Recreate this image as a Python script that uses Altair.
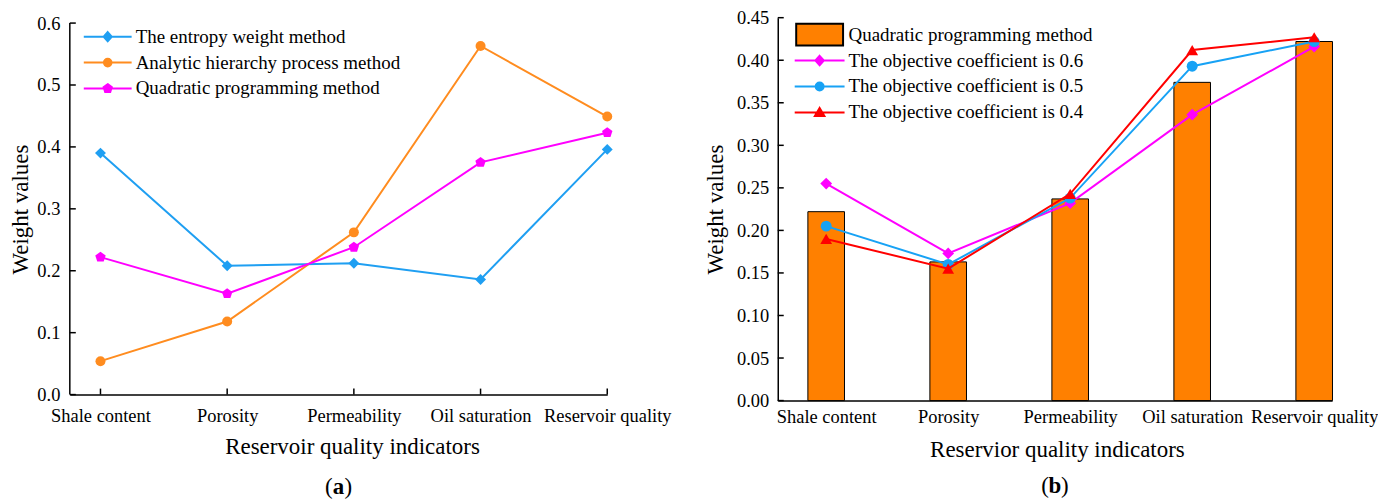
import json
import altair as alt
import pandas as pd

# ---------------- data ----------------
categories = ["Shale content", "Porosity", "Permeability", "Oil saturation", "Reservoir quality"]
cat_index = [0, 1, 2, 3, 4]

# panel (a)
series_a = ["The entropy weight method", "Analytic hierarchy process method", "Quadratic programming method"]
entropy_weight = [0.390, 0.208, 0.212, 0.186, 0.396]
ahp = [0.054, 0.118, 0.262, 0.563, 0.449]
quadratic_a = [0.222, 0.163, 0.238, 0.375, 0.423]
yticks_a = [0.0, 0.1, 0.2, 0.3, 0.4, 0.5, 0.6]

# panel (b)
series_b = ["Quadratic programming method", "The objective coefficient is 0.6",
            "The objective coefficient is 0.5", "The objective coefficient is 0.4"]
quadratic_b = [0.222, 0.163, 0.237, 0.374, 0.422]
coef_06 = [0.255, 0.173, 0.232, 0.336, 0.416]
coef_05 = [0.205, 0.160, 0.238, 0.393, 0.422]
coef_04 = [0.190, 0.155, 0.243, 0.412, 0.427]
yticks_b = [0.0, 0.05, 0.10, 0.15, 0.20, 0.25, 0.30, 0.35, 0.40, 0.45]

FONT = "Liberation Serif"
BLUE_A, ORANGE_A, MAGENTA = "#1F9FF2", "#FF8C1F", "#FF00FF"
BAR_ORANGE, BLUE_B, RED = "#FF8000", "#17A2F5", "#FF0000"

PENTAGON = "M0,-1L0.951,-0.309L0.588,0.809L-0.588,0.809L-0.951,-0.309Z"
LEG_DIAMOND = "M-1,0H1M0,-0.19L0.17,0L0,0.19L-0.17,0Z"
LEG_CIRCLE = "M-1,0H1M0.16,0A0.16,0.16,0,1,1,-0.16,0A0.16,0.16,0,1,1,0.16,0Z"
LEG_PENT = "M-1,0H1M0,-0.18L0.171,-0.056L0.106,0.146L-0.106,0.146L-0.171,-0.056Z"
LEG_TRI = "M-1,0H1M0,-0.18L0.19,0.14L-0.19,0.14Z"
LEG_RECT = "M-0.94,-0.44H0.94V0.44H-0.94Z"


def frame(vals):
    return pd.DataFrame({"idx": cat_index, "category": categories, "value": vals})


label_expr = json.dumps(categories) + "[datum.value]"
one_row = pd.DataFrame({"k": [0]})

# ---------------- panel (a) ----------------
W_A, H_A = 539, 378
xs_a = alt.Scale(domain=[-0.242, 4], nice=False, zero=False)
ys_a = alt.Scale(domain=[0, 0.6087], nice=False)
x_axis_a = alt.Axis(values=cat_index, labelExpr=label_expr, title="Reservoir quality indicators",
                    ticks=False, grid=False, labelFlush=False, labelOverlap=False,
                    labelBaseline="middle", labelPadding=21,
                    titleX=283, titleY=52, titleBaseline="middle", titleAlign="center")
y_axis_a = alt.Axis(values=yticks_a, format=".1f", title="Weight values", ticks=False, grid=False,
                    domain=False, labelFlush=False, labelOverlap=False, labelPadding=10,
                    titleX=-49.5, titleY=H_A / 2 + 3, titleBaseline="middle", titleAlign="center")
XA = alt.X("idx:Q", scale=xs_a, axis=x_axis_a)
YA = alt.Y("value:Q", scale=ys_a, axis=y_axis_a)


def series_layers(vals, color, shape, size, xenc, yenc):
    base = alt.Chart(frame(vals))
    line = base.mark_line(color=color, strokeWidth=2).encode(x=xenc, y=yenc)
    pts = base.mark_point(filled=True, color=color, shape=shape, size=size, opacity=1).encode(x=xenc, y=yenc)
    return [line, pts]


yaxis_line_a = alt.Chart(pd.DataFrame({"value": [yticks_a[0]], "top": [yticks_a[-1]]})).mark_rule(
    color="black", strokeWidth=1.5).encode(y=YA, y2="top:Q", x=alt.value(0))
ytick_a = alt.Chart(pd.DataFrame({"value": yticks_a})).mark_rule(color="black", strokeWidth=1.5).encode(
    y=YA, x=alt.value(0), x2=alt.value(6))
xtick_a = alt.Chart(frame(quadratic_a)).mark_rule(color="black", strokeWidth=1.5).encode(
    x=XA, y=alt.value(H_A - 6), y2=alt.value(H_A))

leg_a = alt.Legend(title=None, orient="none", legendX=13, legendY=6, symbolSize=2304,
                   symbolStrokeWidth=2, labelFont=FONT, labelFontSize=19, labelColor="black",
                   labelOffset=3, symbolOffset=0, clipHeight=26, rowPadding=0, padding=0,
                   labelLimit=500)
legend_a = alt.Chart(pd.DataFrame({"series": series_a})).transform_filter("false").mark_point(
    filled=True, opacity=1).encode(
    color=alt.Color("series:N", scale=alt.Scale(domain=series_a, range=[BLUE_A, ORANGE_A, MAGENTA]), legend=leg_a),
    stroke=alt.Stroke("series:N", scale=alt.Scale(domain=series_a, range=[BLUE_A, ORANGE_A, MAGENTA]), legend=leg_a),
    shape=alt.Shape("series:N", scale=alt.Scale(domain=series_a, range=[LEG_DIAMOND, LEG_CIRCLE, LEG_PENT]), legend=leg_a),
)


def panel_label(letter, w, y):
    base = alt.Chart(one_row)
    mid = base.mark_text(text=letter, font=FONT, fontSize=23, fontWeight="bold", color="black",
                         align="center", baseline="alphabetic").encode(x=alt.value(w / 2), y=alt.value(y))
    lp = base.mark_text(text="(", font=FONT, fontSize=23, color="black",
                        align="right", baseline="alphabetic").encode(x=alt.value(w / 2 - 6), y=alt.value(y))
    rp = base.mark_text(text=")", font=FONT, fontSize=23, color="black",
                        align="left", baseline="alphabetic").encode(x=alt.value(w / 2 + 6), y=alt.value(y))
    return [lp, mid, rp]


layers_a = [yaxis_line_a, ytick_a, xtick_a]
layers_a += series_layers(ahp, ORANGE_A, "circle", 100, XA, YA)
layers_a += series_layers(entropy_weight, BLUE_A, "diamond", 120, XA, YA)
layers_a += series_layers(quadratic_a, MAGENTA, PENTAGON, 120, XA, YA)
layers_a += [legend_a]
layers_a += panel_label("a", W_A, 478)

chart_a = alt.layer(*layers_a).properties(width=W_A, height=H_A)

# ---------------- panel (b) ----------------
W_B, H_B = 556, 384
xs_b = alt.Scale(domain=[-0.397, 4.147], nice=False, zero=False)
ys_b = alt.Scale(domain=[0, 0.45], nice=False)
x_axis_b = alt.Axis(values=cat_index, labelExpr=label_expr, title="Reservior quality indicators",
                    ticks=False, grid=False, labelFlush=False, labelOverlap=False,
                    labelBaseline="middle", labelPadding=16,
                    titleX=280, titleY=49, titleBaseline="middle", titleAlign="center")
y_axis_b = alt.Axis(values=yticks_b, format=".2f", title="Weight values", ticks=False, grid=False,
                    labelFlush=False, labelOverlap=False, labelPadding=9,
                    titleX=-62, titleY=H_B / 2, titleBaseline="middle", titleAlign="center")
XB = alt.X("idx:Q", scale=xs_b, axis=x_axis_b)
YB = alt.Y("value:Q", scale=ys_b, axis=y_axis_b)

ytick_b = alt.Chart(pd.DataFrame({"value": yticks_b})).mark_rule(color="black", strokeWidth=1.5).encode(
    y=YB, x=alt.value(0), x2=alt.value(6))

bars_b = alt.Chart(frame(quadratic_b)).transform_calculate(
    x0="datum.idx - 0.15", x1="datum.idx + 0.15", base="0").mark_bar(
    color=BAR_ORANGE, stroke="black", strokeWidth=1).encode(
    x=alt.X("x0:Q", scale=xs_b, axis=x_axis_b), x2="x1:Q", y=YB, y2="base:Q")

leg_b = alt.Legend(title=None, orient="none", legendX=16, legendY=4, symbolSize=2500,
                   symbolStrokeWidth=2, labelFont=FONT, labelFontSize=19, labelColor="black",
                   labelOffset=3, symbolOffset=0, clipHeight=26, rowPadding=0, padding=0,
                   labelLimit=500)
legend_b = alt.Chart(pd.DataFrame({"series": series_b})).transform_filter("false").mark_point(
    filled=True, opacity=1).encode(
    color=alt.Color("series:N", scale=alt.Scale(domain=series_b, range=[BAR_ORANGE, MAGENTA, BLUE_B, RED]), legend=leg_b),
    stroke=alt.Stroke("series:N", scale=alt.Scale(domain=series_b, range=["#000000", MAGENTA, BLUE_B, RED]), legend=leg_b),
    shape=alt.Shape("series:N", scale=alt.Scale(domain=series_b, range=[LEG_RECT, LEG_DIAMOND, LEG_CIRCLE, LEG_TRI]), legend=leg_b),
)

layers_b = [ytick_b, bars_b]
layers_b += series_layers(coef_06, MAGENTA, "diamond", 140, XB, YB)
layers_b += series_layers(coef_05, BLUE_B, "circle", 120, XB, YB)
layers_b += series_layers(coef_04, RED, "triangle-up", 140, XB, YB)
layers_b += [legend_b]
layers_b += panel_label("b", W_B, 477)

chart_b = alt.layer(*layers_b).properties(width=W_B, height=H_B)

chart = alt.hconcat(chart_a, chart_b, spacing=34).resolve_scale(
    color="independent", stroke="independent", shape="independent", x="independent", y="independent"
).resolve_legend(
    color="independent", stroke="independent", shape="independent"
).properties(
    padding={"left": 1, "top": 0, "right": 0, "bottom": 0}
).configure_axis(
    labelFont=FONT, labelFontSize=18.5, labelColor="black",
    titleFont=FONT, titleFontSize=23, titleFontWeight="normal", titleColor="black",
    domainColor="black", domainWidth=1.5,
).configure_view(stroke=None)

chart.save("out.html", embed_options={"renderer": "svg", "actions": False})
